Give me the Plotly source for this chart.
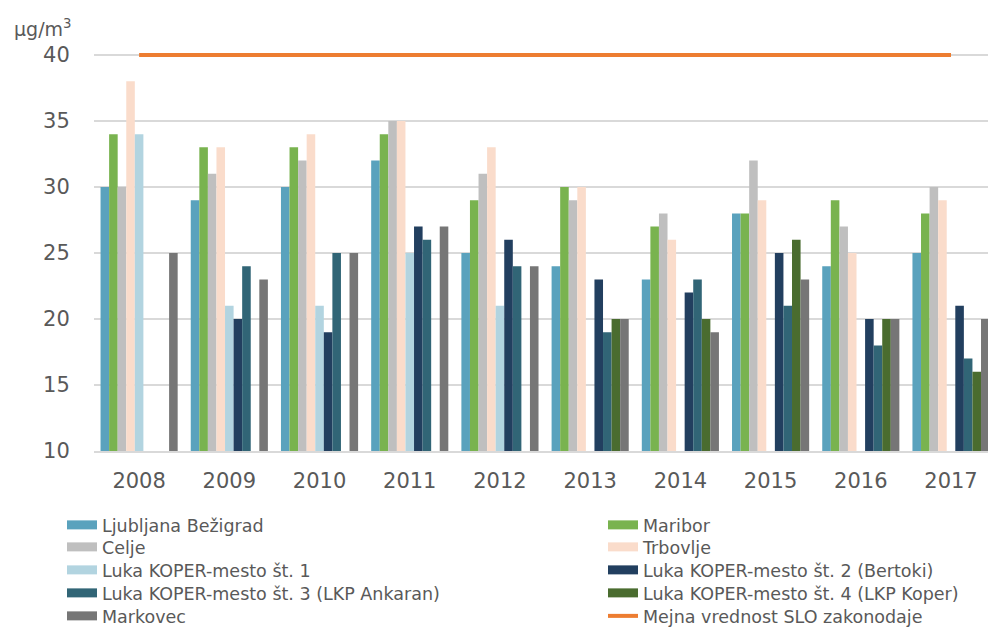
import plotly.graph_objects as go

years = ["2008", "2009", "2010", "2011", "2012", "2013", "2014", "2015", "2016", "2017"]

ljubljana = [30, 29, 30, 32, 25, 24, 23, 28, 24, 25]
maribor   = [34, 33, 33, 34, 29, 30, 27, 28, 29, 28]
celje     = [30, 31, 32, 35, 31, 29, 28, 32, 27, 30]
trbovlje  = [38, 33, 34, 35, 33, 30, 26, 29, 25, 29]
luka1     = [34, 21, 21, 25, 21, None, None, None, None, None]
luka2     = [None, 20, 19, 27, 26, 23, 22, 25, 20, 21]
luka3     = [None, 24, 25, 26, 24, 19, 23, 21, 18, 17]
luka4     = [None, None, None, None, None, 20, 20, 26, 20, 16]
markovec  = [25, 23, 25, 27, 24, 20, 19, 23, 20, 20]
limit     = [40] * 10

series = [
    ("Ljubljana Bežigrad", ljubljana, "#5AA2BD"),
    ("Maribor", maribor, "#79B34F"),
    ("Celje", celje, "#BFBFBF"),
    ("Trbovlje", trbovlje, "#FADCCB"),
    ("Luka KOPER-mesto št. 1", luka1, "#B2D4E0"),
    ("Luka KOPER-mesto št. 2 (Bertoki)", luka2, "#223F5F"),
    ("Luka KOPER-mesto št. 3 (LKP Ankaran)", luka3, "#316576"),
    ("Luka KOPER-mesto št. 4 (LKP Koper)", luka4, "#4A6C2F"),
    ("Markovec", markovec, "#767676"),
]
limit_name = "Mejna vrednost SLO zakonodaje"
limit_color = "#ED7D31"

FONT = "DejaVu Sans, sans-serif"
GREY = "#595959"

W, H = 988, 629
ml, mr, mt, mb = 94, 0, 51, 178
pw, ph = W - ml - mr, H - mt - mb

def px_x(x):
    return (x - ml) / pw

def px_y(y):
    return (H - mb - y) / ph

fig = go.Figure()
for name, vals, col in series:
    fig.add_trace(go.Bar(x=years, y=vals, name=name, marker=dict(color=col, line=dict(width=0)),
                         showlegend=False, legendgroup=name))

fig.add_trace(go.Scatter(x=years, y=limit, mode="lines", name=limit_name,
                         line=dict(color=limit_color, width=4), showlegend=False,
                         legendgroup="limit"))

# legend: two columns, five rows; one small legend per entry for exact placement
legend_items = [(n, c, 9, n) for n, _, c in series] + [(limit_name, limit_color, 4, "limit")]
row_y = [525, 547, 570, 593, 616]
col_x = [62, 603]
legfont = dict(family=FONT, size=17.5, color=GREY)
legend_layouts = {}
for i, (name, col, lw, grp) in enumerate(legend_items):
    lid = "legend" if i == 0 else f"legend{i + 1}"
    fig.add_trace(go.Scatter(x=[None], y=[None], mode="lines", name=name, legend=lid,
                             legendgroup=grp, line=dict(color=col, width=lw)))
    legend_layouts[lid] = dict(x=px_x(col_x[i % 2]), y=px_y(row_y[i // 2]),
                               xanchor="left", yanchor="middle", orientation="v",
                               font=legfont, bgcolor="rgba(0,0,0,0)")

fig.update_layout(
    width=W, height=H,
    margin=dict(l=ml, r=mr, t=mt, b=mb, autoexpand=False),
    paper_bgcolor="white", plot_bgcolor="white",
    barmode="group", bargap=0.145, bargroupgap=0,
    font=dict(family=FONT, color=GREY),
    xaxis=dict(type="category", range=[-0.5, 9.41], showgrid=False, automargin=False,
               showline=True, linecolor="#D9D9D9", linewidth=2,
               tickfont=dict(size=21, color=GREY), ticks="", ticklabelstandoff=10),
    yaxis=dict(range=[10, 40.3], tickvals=[10, 15, 20, 25, 30, 35, 40], showgrid=True,
               automargin=False, gridcolor="#D9D9D9", gridwidth=2, zeroline=False, showline=False,
               tickfont=dict(size=21, color=GREY), ticks="outside", ticklen=19,
               tickcolor="rgba(0,0,0,0)"),
    annotations=[dict(text="µg/m<sup>3</sup>", xref="paper", yref="paper",
                      x=px_x(74), y=px_y(28), xanchor="right", yanchor="middle",
                      showarrow=False, font=dict(size=19, color=GREY))],
    **legend_layouts,
)

fig.write_html("out.html", config={"displayModeBar": False},
               post_script="document.body.style.margin='0';")
